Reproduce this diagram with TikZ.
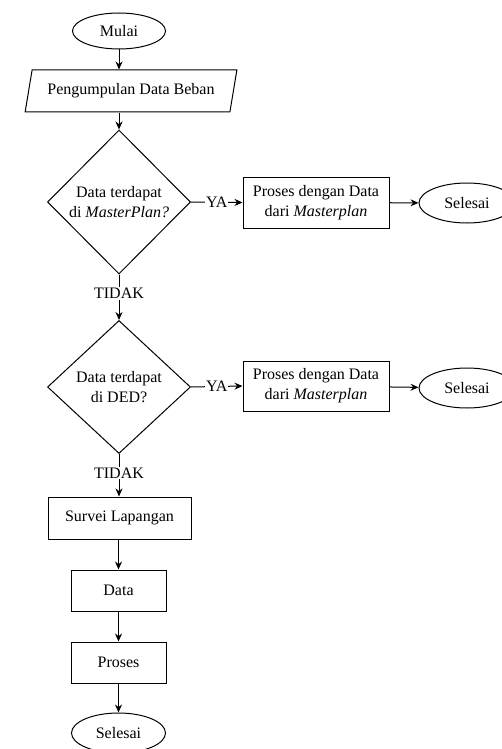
\documentclass[tikz,border=0pt]{standalone}
\usepackage{fontspec}
\setmainfont{Liberation Serif}
\usetikzlibrary{shapes.geometric,arrows.meta}

\tikzset{
  base/.style={draw, line width=1pt, inner sep=0pt, align=center,
               font=\fontsize{16pt}{20pt}\selectfont},
  terminal/.style={base, ellipse},
  procbox/.style={base, rectangle},
  iobox/.style={base, trapezium, trapezium left angle=68, trapezium right angle=112,
                trapezium stretches=true},
  decision/.style={base, diamond},
  flow/.style={line width=1pt, -{Stealth[length=8pt,width=7pt]}},
  edgelabel/.style={fill=white, inner sep=1pt, font=\fontsize{16pt}{20pt}\selectfont}
}

\begin{document}
\begin{tikzpicture}[x=1pt, y=-1pt]
  \useasboundingbox (0,0) rectangle (502,749);

  % main column
  \node[terminal, minimum width=93pt, minimum height=36pt] (start) at (119,31) {Mulai};
  \node[iobox, minimum width=212pt, minimum height=42pt] (collect) at (131,91) {Pengumpulan Data Beban};
  \node[decision, minimum width=143pt, minimum height=144pt] (d1) at (119,202)
       {Data terdapat\\di \textit{MasterPlan?}};
  \node[decision, minimum width=143pt, minimum height=133pt] (d2) at (119,387)
       {Data terdapat\\di DED?};
  \node[procbox, minimum width=143pt, minimum height=42pt] (survei) at (119.5,518) {Survei Lapangan};
  \node[procbox, minimum width=95pt, minimum height=41pt] (data) at (118.5,590.5) {Data};
  \node[procbox, minimum width=95pt, minimum height=41pt] (proses) at (118.5,662.5) {Proses};
  \node[terminal, minimum width=94pt, minimum height=40pt] (end) at (118.5,733) {Selesai};

  % right branches
  \node[procbox, minimum width=146pt, minimum height=51pt] (p1) at (316,202.5)
       {Proses dengan Data\\dari \textit{Masterplan}};
  \node[terminal, minimum width=96pt, minimum height=40pt] (e1) at (467,203) {Selesai};
  \node[procbox, minimum width=146pt, minimum height=50pt] (p2) at (316,386)
       {Proses dengan Data\\dari \textit{Masterplan}};
  \node[terminal, minimum width=96pt, minimum height=40pt] (e2) at (467,388) {Selesai};

  % connectors (vertical ones kept straight on the main column)
  \draw[flow] (start.south) -- (collect.north -| start.south);
  \draw[flow] (collect.south -| d1.north) -- (d1.north);
  \draw[flow] (d1.east) -- node[edgelabel] {YA} (p1.west);
  \draw[flow] (p1) -- (e1);
  \draw[flow] (d1.south) -- node[edgelabel, pos=0.42] {TIDAK} (d2.north);
  \draw[flow] (d2.east) -- node[edgelabel] {YA} (p2.west);
  \draw[flow] (p2) -- (e2);
  \draw[flow] (d2.south) -- node[edgelabel, pos=0.45] {TIDAK} (d2.south |- survei.north);
  \draw[flow] (data.north |- survei.south) -- (data.north);
  \draw[flow] (data) -- (proses);
  \draw[flow] (proses) -- (end);
\end{tikzpicture}
\end{document}
